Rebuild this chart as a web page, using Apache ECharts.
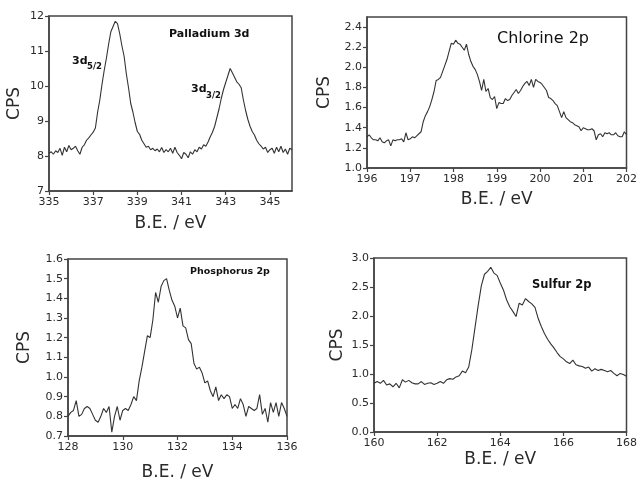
<!DOCTYPE html>
<html><head><meta charset="utf-8">
<script src="https://cdn.jsdelivr.net/npm/echarts@6/dist/echarts.min.js"></script>
<style>html,body{margin:0;padding:0;background:#fff}#c{width:640px;height:482px}</style>
</head><body><div id="c"></div>
<script>
// Palladium 3d
const pdBE = [335.0,335.1,335.2,335.3,335.4,335.5,335.6,335.7,335.8,335.9,336.0,336.1,336.2,336.3,336.4,336.5,336.6,336.7,336.8,336.9,337.0,337.1,337.2,337.3,337.4,337.5,337.6,337.7,337.8,337.9,338.0,338.1,338.2,338.3,338.4,338.5,338.6,338.7,338.8,338.9,339.0,339.1,339.2,339.3,339.4,339.5,339.6,339.7,339.8,339.9,340.0,340.1,340.2,340.3,340.4,340.5,340.6,340.7,340.8,340.9,341.0,341.1,341.2,341.3,341.4,341.5,341.6,341.7,341.8,341.9,342.0,342.1,342.2,342.3,342.4,342.5,342.6,342.7,342.8,342.9,343.0,343.1,343.2,343.3,343.4,343.5,343.6,343.7,343.8,343.9,344.0,344.1,344.2,344.3,344.4,344.5,344.6,344.7,344.8,344.9,345.0,345.1,345.2,345.3,345.4,345.5,345.6,345.7,345.8,345.9,346.0];
const pdCPS = [8.08,8.12,8.05,8.15,8.10,8.22,8.02,8.25,8.12,8.30,8.18,8.22,8.28,8.15,8.05,8.25,8.32,8.45,8.52,8.60,8.68,8.80,9.25,9.60,10.05,10.45,10.80,11.20,11.55,11.70,11.85,11.78,11.50,11.15,10.85,10.35,9.95,9.50,9.25,8.95,8.70,8.62,8.45,8.35,8.25,8.28,8.18,8.22,8.15,8.20,8.12,8.24,8.10,8.18,8.12,8.22,8.08,8.25,8.10,8.02,7.92,8.10,8.05,7.95,8.12,8.05,8.18,8.12,8.25,8.20,8.32,8.28,8.40,8.55,8.68,8.85,9.10,9.35,9.65,9.90,10.10,10.30,10.50,10.38,10.25,10.12,10.05,9.95,9.60,9.30,9.05,8.85,8.70,8.60,8.45,8.35,8.28,8.20,8.25,8.10,8.18,8.22,8.08,8.25,8.12,8.28,8.10,8.20,8.05,8.22,8.18];
const pdTicks = [335,337,339,341,343,345];

// Chlorine 2p
const clBE = [196.00,196.05,196.10,196.15,196.20,196.25,196.30,196.35,196.40,196.45,196.50,196.55,196.60,196.65,196.70,196.75,196.80,196.85,196.90,196.95,197.00,197.05,197.10,197.15,197.20,197.25,197.30,197.35,197.40,197.45,197.50,197.55,197.60,197.65,197.70,197.75,197.80,197.85,197.90,197.95,198.00,198.05,198.10,198.15,198.20,198.25,198.30,198.35,198.40,198.45,198.50,198.55,198.60,198.65,198.70,198.75,198.80,198.85,198.90,198.95,199.00,199.05,199.10,199.15,199.20,199.25,199.30,199.35,199.40,199.45,199.50,199.55,199.60,199.65,199.70,199.75,199.80,199.85,199.90,199.95,200.00,200.05,200.10,200.15,200.20,200.25,200.30,200.35,200.40,200.45,200.50,200.55,200.60,200.65,200.70,200.75,200.80,200.85,200.90,200.95,201.00,201.05,201.10,201.15,201.20,201.25,201.30,201.35,201.40,201.45,201.50,201.55,201.60,201.65,201.70,201.75,201.80,201.85,201.90,201.95,202.00];
const clCPS = [1.31,1.33,1.30,1.28,1.28,1.27,1.30,1.26,1.25,1.27,1.28,1.22,1.28,1.27,1.28,1.28,1.29,1.26,1.35,1.28,1.29,1.31,1.30,1.32,1.34,1.36,1.46,1.52,1.56,1.61,1.68,1.76,1.87,1.88,1.90,1.96,2.02,2.08,2.16,2.24,2.23,2.27,2.24,2.23,2.20,2.17,2.23,2.13,2.06,2.01,1.98,1.93,1.86,1.77,1.88,1.76,1.79,1.70,1.68,1.71,1.59,1.65,1.64,1.64,1.69,1.67,1.68,1.72,1.75,1.78,1.74,1.77,1.81,1.84,1.86,1.82,1.88,1.80,1.88,1.86,1.85,1.83,1.80,1.77,1.70,1.69,1.67,1.64,1.62,1.56,1.50,1.56,1.50,1.48,1.46,1.45,1.43,1.42,1.41,1.37,1.40,1.39,1.38,1.38,1.39,1.37,1.28,1.33,1.34,1.31,1.35,1.34,1.35,1.33,1.33,1.35,1.32,1.31,1.31,1.36,1.33];
const clYTicks = [1.0,1.2,1.4,1.6,1.8,2.0,2.2,2.4];

// Phosphorus 2p
const pBE = [128.0,128.1,128.2,128.3,128.4,128.5,128.6,128.7,128.8,128.9,129.0,129.1,129.2,129.3,129.4,129.5,129.6,129.7,129.8,129.9,130.0,130.1,130.2,130.3,130.4,130.5,130.6,130.7,130.8,130.9,131.0,131.1,131.2,131.3,131.4,131.5,131.6,131.7,131.8,131.9,132.0,132.1,132.2,132.3,132.4,132.5,132.6,132.7,132.8,132.9,133.0,133.1,133.2,133.3,133.4,133.5,133.6,133.7,133.8,133.9,134.0,134.1,134.2,134.3,134.4,134.5,134.6,134.7,134.8,134.9,135.0,135.1,135.2,135.3,135.4,135.5,135.6,135.7,135.8,135.9,136.0];
const pCPS = [0.80,0.82,0.83,0.88,0.80,0.81,0.84,0.85,0.84,0.81,0.78,0.77,0.80,0.84,0.82,0.85,0.72,0.80,0.85,0.78,0.83,0.84,0.83,0.86,0.90,0.88,0.98,1.05,1.13,1.21,1.20,1.29,1.43,1.38,1.46,1.49,1.50,1.44,1.39,1.36,1.30,1.35,1.26,1.25,1.19,1.17,1.07,1.04,1.05,1.02,0.97,0.98,0.93,0.90,0.95,0.88,0.91,0.89,0.91,0.90,0.84,0.86,0.84,0.89,0.86,0.80,0.85,0.84,0.83,0.84,0.91,0.81,0.84,0.77,0.87,0.82,0.87,0.80,0.87,0.84,0.80];

// Sulfur 2p
const sBE = [160.0,160.1,160.2,160.3,160.4,160.5,160.6,160.7,160.8,160.9,161.0,161.1,161.2,161.3,161.4,161.5,161.6,161.7,161.8,161.9,162.0,162.1,162.2,162.3,162.4,162.5,162.6,162.7,162.8,162.9,163.0,163.1,163.2,163.3,163.4,163.5,163.6,163.7,163.8,163.9,164.0,164.1,164.2,164.3,164.4,164.5,164.6,164.7,164.8,164.9,165.0,165.1,165.2,165.3,165.4,165.5,165.6,165.7,165.8,165.9,166.0,166.1,166.2,166.3,166.4,166.5,166.6,166.7,166.8,166.9,167.0,167.1,167.2,167.3,167.4,167.5,167.6,167.7,167.8,167.9,168.0];
const sCPS = [0.84,0.87,0.84,0.89,0.81,0.83,0.78,0.84,0.76,0.90,0.86,0.89,0.85,0.83,0.83,0.87,0.82,0.84,0.85,0.82,0.84,0.87,0.84,0.90,0.92,0.91,0.95,0.97,1.05,1.02,1.12,1.42,1.80,2.18,2.52,2.72,2.77,2.84,2.74,2.70,2.57,2.45,2.28,2.16,2.08,1.99,2.22,2.19,2.30,2.25,2.21,2.15,1.96,1.82,1.70,1.60,1.52,1.45,1.37,1.30,1.26,1.21,1.18,1.24,1.16,1.14,1.13,1.10,1.12,1.05,1.09,1.06,1.08,1.06,1.04,1.06,1.01,0.97,1.01,0.99,0.96];

const xTitle = 'B.E. / eV';
const yTitle = 'CPS';

const FONT = 'DejaVu Sans';
const AX = '#444';
const TXT = '#2a2a2a';
const zip = (a, b) => a.map((v, i) => [v, b[i]]);

function xAx(idx, min, max, interval, gap, extra) {
  return Object.assign({
    type: 'value', gridIndex: idx, min, max, interval,
    name: xTitle, nameLocation: 'middle', nameGap: gap,
    nameTextStyle: { fontFamily: FONT, fontSize: 17, color: TXT },
    axisLine: { show: true, onZero: false, lineStyle: { color: AX, width: 1.5 } },
    axisTick: { show: true, length: 4, lineStyle: { color: AX, width: 1.2 } },
    axisLabel: { fontFamily: FONT, fontSize: 11, color: TXT, margin: 6 },
    splitLine: { show: false }
  }, extra || {});
}
function yAx(idx, min, max, interval, gap, dec, extra) {
  return Object.assign({
    type: 'value', gridIndex: idx, min, max, interval,
    name: yTitle, nameLocation: 'middle', nameGap: gap,
    nameTextStyle: { fontFamily: FONT, fontSize: 17, color: TXT },
    axisLine: { show: true, onZero: false, lineStyle: { color: AX, width: 1.5 } },
    axisTick: { show: true, length: 4, lineStyle: { color: AX, width: 1.2 } },
    axisLabel: { fontFamily: FONT, fontSize: 11, color: TXT, margin: 5,
      formatter: v => v.toFixed(dec) },
    splitLine: { show: false }
  }, extra || {});
}
function ser(idx, xs, ys) {
  return { type: 'line', xAxisIndex: idx, yAxisIndex: idx, data: zip(xs, ys),
    showSymbol: false, symbol: 'none', lineStyle: { color: '#333', width: 1.1 },
    silent: true };
}
const gridBase = { show: true, borderColor: AX, borderWidth: 1.5, backgroundColor: 'transparent' };

const chart = echarts.init(document.getElementById('c'), null, { renderer: 'canvas' });
chart.setOption({
  animation: false,
  backgroundColor: '#fff',
  grid: [
    Object.assign({ left: 49, top: 16, width: 243, height: 175 }, gridBase),
    Object.assign({ left: 367, top: 17, width: 261, height: 151 }, gridBase),
    Object.assign({ left: 68, top: 259, width: 219, height: 178 }, gridBase),
    Object.assign({ left: 374, top: 258, width: 255, height: 174 }, gridBase)
  ],
  xAxis: [
    xAx(0, 335, 346, null, 24, {
      axisTick: { show: true, length: 4, customValues: pdTicks, lineStyle: { color: AX, width: 1.2 } },
      axisLabel: { fontFamily: FONT, fontSize: 11, color: TXT, margin: 6, customValues: pdTicks }
    }),
    xAx(1, 196, 202, 1, 23),
    xAx(2, 128, 136, 2, 28),
    xAx(3, 160, 168, 2, 19)
  ],
  yAxis: [
    yAx(0, 7, 12, 1, 26, 0),
    yAx(1, 1.0, 2.5, null, 34, 1, {
      axisTick: { show: true, length: 4, customValues: clYTicks, lineStyle: { color: AX, width: 1.2 } },
      axisLabel: { fontFamily: FONT, fontSize: 11, color: TXT, margin: 5, customValues: clYTicks, formatter: v => v.toFixed(1) }
    }),
    yAx(2, 0.7, 1.6, 0.1, 35, 1),
    yAx(3, 0, 3, 0.5, 28, 1)
  ],
  series: [
    ser(0, pdBE, pdCPS),
    ser(1, clBE, clCPS),
    ser(2, pBE, pCPS),
    ser(3, sBE, sCPS)
  ],
  graphic: [
    { type: 'text', left: 169, top: 29, style: { text: 'Palladium 3d', font: 'bold 11px "DejaVu Sans"', fill: '#111' } },
    { type: 'text', left: 72, top: 56, style: { text: '3d', font: 'bold 11px "DejaVu Sans"', fill: '#111' } },
    { type: 'text', left: 87, top: 62, style: { text: '5/2', font: 'bold 8.5px "DejaVu Sans"', fill: '#111' } },
    { type: 'text', left: 191, top: 84, style: { text: '3d', font: 'bold 11px "DejaVu Sans"', fill: '#111' } },
    { type: 'text', left: 206, top: 91, style: { text: '3/2', font: 'bold 8.5px "DejaVu Sans"', fill: '#111' } },
    { type: 'text', left: 497, top: 31, style: { text: 'Chlorine 2p', font: '16px "DejaVu Sans"', fill: '#111' } },
    { type: 'text', left: 190, top: 267, style: { text: 'Phosphorus 2p', font: 'bold 9.5px "DejaVu Sans"', fill: '#111' } },
    { type: 'text', left: 532, top: 279, style: { text: 'Sulfur 2p', font: 'bold 11.5px "DejaVu Sans"', fill: '#111' } }
  ]
});
</script></body></html>
